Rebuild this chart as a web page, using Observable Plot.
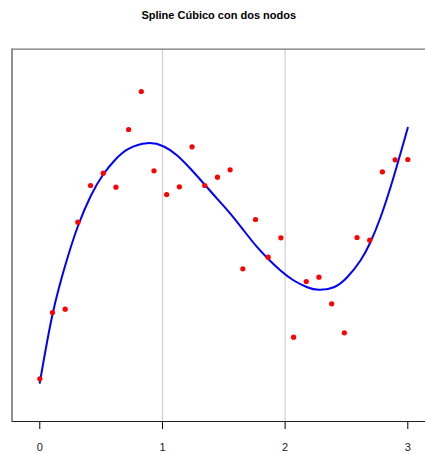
<!DOCTYPE html>
<html>
<head>
<meta charset="utf-8">
<script src="https://cdn.jsdelivr.net/npm/d3@7"></script>
<script src="https://cdn.jsdelivr.net/npm/@observablehq/plot@0.6"></script>
<style>
  html, body { margin: 0; padding: 0; background: #fff; }
  svg { font-family: "Liberation Sans", Arial, sans-serif; }
</style>
</head>
<body>
<div id="chart"></div>
<script>
const title = "Spline Cúbico con dos nodos";

// observed x (30 equally spaced points on [0, 3])
const xIndex = d3.range(30);
const xObs = xIndex.map(i => i * 3 / 29);
const yObs = [0.427, 1.09, 1.123, 1.993, 2.36, 2.483, 2.343, 2.92, 3.30, 2.507,
              2.27, 2.347, 2.747, 2.36, 2.443, 2.517, 1.527, 2.02, 1.643, 1.837,
              0.843, 1.40, 1.443, 1.177, 0.887, 1.84, 1.813, 2.497, 2.617, 2.62];

// fitted cubic spline
const xFit = [0, 0.1035, 0.2119, 0.3098, 0.4133, 0.5168, 0.6204, 0.7231, 0.8755,
              1.0109, 1.1201, 1.2285, 1.3508, 1.4462, 1.5546, 1.663, 1.7722, 1.8668,
              1.9622, 2.0706, 2.1799, 2.2744, 2.3967, 2.5059, 2.6143, 2.6902, 2.7773,
              2.8858, 3.0];
const yFit = [0.387, 1.07, 1.58, 1.95, 2.25, 2.47, 2.625, 2.727, 2.783,
              2.75, 2.66, 2.527, 2.36, 2.227, 2.077, 1.91, 1.743, 1.62,
              1.51, 1.41, 1.343, 1.317, 1.343, 1.443, 1.61, 1.78, 2.04,
              2.45, 2.937];

const knots = [1, 2];
const xTicks = [0, 1, 2, 3];

const points = xObs.map((x, i) => ({x, y: yObs[i]}));
const fit = xFit.map((x, i) => ({x, y: yFit[i]}));

const xMin = -0.2266, xMax = 3.1443, yMin = 0, yMax = 3.723;

const chart = Plot.plot({
  width: 425,
  height: 453,
  marginTop: 48.7,
  marginBottom: 32,
  marginLeft: 11.5,
  marginRight: 0,
  style: {fontFamily: "Liberation Sans, Arial, sans-serif", background: "#fff"},
  x: {domain: [xMin, xMax], ticks: xTicks, tickSize: 8, tickPadding: 14, tickFormat: d => String(d), label: null},
  y: {domain: [yMin, yMax], axis: null},
  marks: [
    Plot.ruleX(knots, {stroke: "#d0d0d0", strokeWidth: 1.2}),
    Plot.ruleX([xMin], {stroke: "#222", strokeWidth: 1}),
    Plot.ruleY([yMax], {stroke: "#777", strokeWidth: 1.3}),
    Plot.ruleY([yMin], {stroke: "#222", strokeWidth: 1}),
    Plot.line(fit, {x: "x", y: "y", stroke: "#0000ff", strokeWidth: 2, curve: "natural"}),
    Plot.dot(points, {x: "x", y: "y", r: 2.6, fill: "#ff0000", stroke: "none"}),
    Plot.text([title], {text: d => d, frameAnchor: "top", dy: -33.7, fontSize: 11, fontWeight: "bold", fill: "#000", lineAnchor: "middle"})
  ]
});
chart.querySelectorAll('g[aria-label="x-axis tick label"]').forEach(el => {
  el.setAttribute("font-size", "11");
  el.style.fontSize = "11px";
  el.setAttribute("fill", "#222");
});
document.getElementById("chart").appendChild(chart);
</script>
</body>
</html>
